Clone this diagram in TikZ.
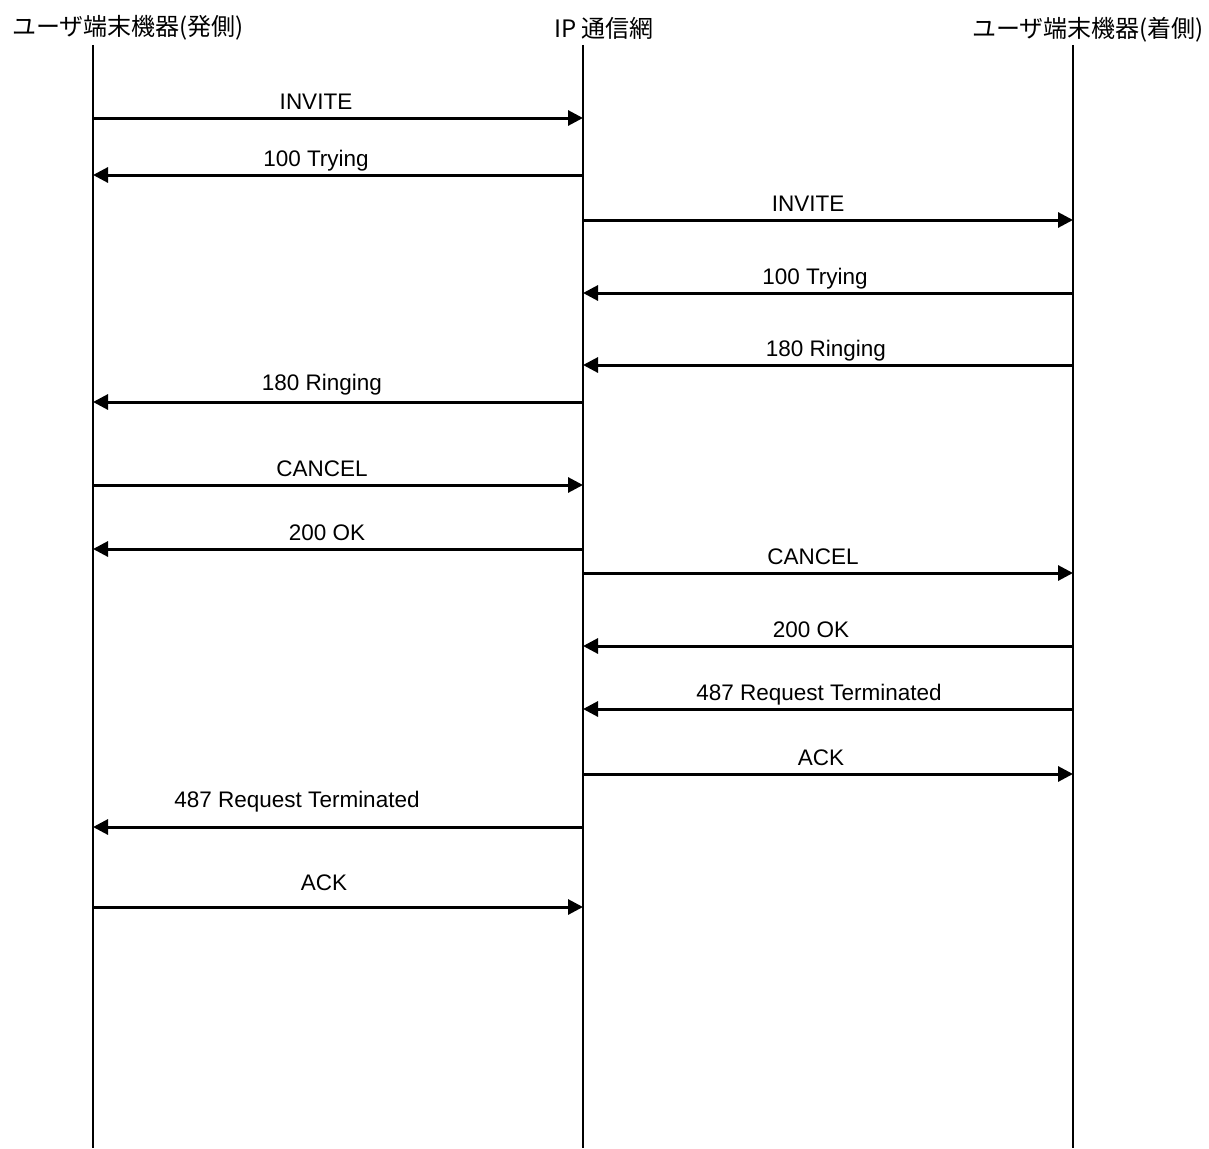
\documentclass[tikz,border=0pt]{standalone}
\usepackage{fontspec}
\setmainfont{Liberation Sans}
\newfontfamily\jpfont{Noto Sans CJK JP}
\usetikzlibrary{arrows.meta, calc}

\begin{document}
\begin{tikzpicture}[
    x=1pt, y=-1pt,
    head/.style={font=\jpfont\fontsize{24}{24}\selectfont, inner sep=0pt},
    lifeline/.style={line width=1.5pt},
    msg/.style={-{Triangle[length=15pt,width=15pt]}, line width=3pt},
    lbl/.style={font=\fontsize{22.5}{22.5}\selectfont, inner sep=0pt, text depth=0pt, above=8pt}
]
\useasboundingbox (0,0) rectangle (1209,1148);

% Headers
\node[head] (caller) at (128,28) {ユーザ端末機器(発側)};
\node[head] (net) at (604,28) {IP 通信網};
\node[head] (callee) at (1088,30) {ユーザ端末機器(着側)};

% Lifelines
\coordinate (a0) at (93,45);
\coordinate (b0) at (583,45);
\coordinate (c0) at (1073,45);
\coordinate (a1) at (93,1148);
\coordinate (b1) at (583,1148);
\coordinate (c1) at (1073,1148);
\draw[lifeline] (a0) -- (a1);
\draw[lifeline] (b0) -- (b1);
\draw[lifeline] (c0) -- (c1);

% Messages
\foreach \y/\from/\to/\txt/\dx/\dy in {
    118/93/583/INVITE/-22/0,
    175/583/93/100 Trying/-22/0,
    220/583/1073/INVITE/-20/0,
    293/1073/583/100 Trying/-13/0,
    365/1073/583/180 Ringing/-2/0,
    402/583/93/180 Ringing/-16/3,
    485/93/583/CANCEL/-16/0,
    549/583/93/200 OK/-11/0,
    573/583/1073/CANCEL/-15/0,
    646/1073/583/200 OK/-17/0,
    709/1073/583/487 Request Terminated/-9/0,
    774/583/1073/ACK/-7/0,
    827/583/93/487 Request Terminated/-41/11,
    907/93/583/ACK/-14/8} {
    \coordinate (s) at (\from,\y);
    \coordinate (t) at (\to,\y);
    \draw[msg] (s) -- (t);
    \node[lbl, xshift=\dx pt, yshift=\dy pt] at ($(s)!0.5!(t)$) {\txt};
}

\end{tikzpicture}
\end{document}
